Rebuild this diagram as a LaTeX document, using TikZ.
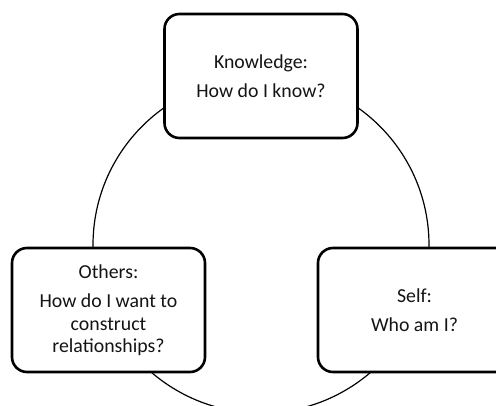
\documentclass[tikz,border=0pt]{standalone}
\usepackage{fontspec}
\setmainfont{Carlito}
\begin{document}
\begin{tikzpicture}[x=1pt,y=-1pt,
  box/.style={draw=black, fill=white, line width=2.6pt, rounded corners=15pt,
    minimum width=193pt, minimum height=124pt, align=center,
    font=\fontsize{19.8}{22.5}\selectfont, text=black!92},
  ring/.style={draw=black, line width=1.2pt, circle, minimum size=336pt, inner sep=0pt}]
\useasboundingbox (0,0) rectangle (496,406);
\clip (0,0) rectangle (496,406);
\node[ring] (cycle) at (261,245) {};
\node[box] (knowledge) at (261,76) {Knowledge:\\[7pt]How do I know?};
\node[box] (others) at (108.5,310) {Others:\\[7pt]How do I want to\\construct\\relationships?};
\node[box] (self) at (414.5,310) {Self:\\[7pt]Who am I?};
\end{tikzpicture}
\end{document}
